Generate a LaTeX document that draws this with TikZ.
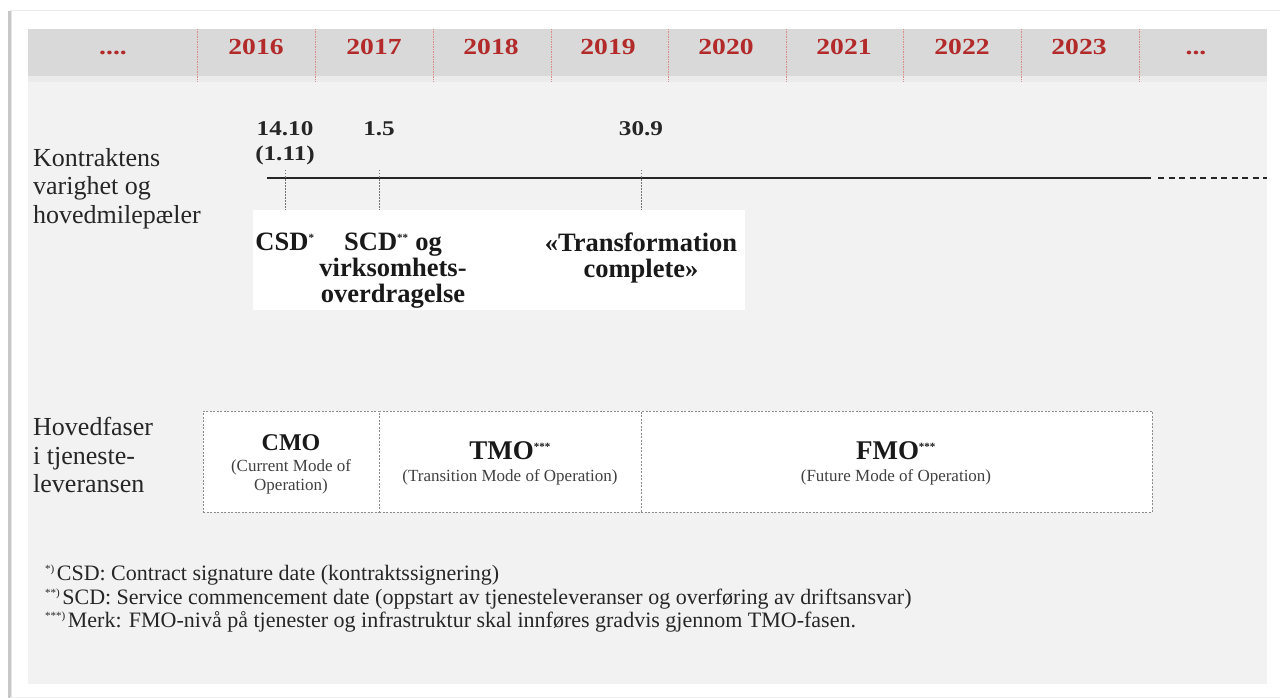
\documentclass[tikz,border=0pt]{standalone}
\usepackage{fontspec}
\setmainfont{Liberation Serif}
\newfontfamily\yearfont{Liberation Serif}[FakeStretch=1.2]
\usetikzlibrary{calc}
\definecolor{yearred}{HTML}{B22A2A}
\definecolor{sepred}{HTML}{D98A8A}
\definecolor{panelgray}{HTML}{F2F2F2}
\definecolor{headgray}{HTML}{D9D9D9}
\definecolor{headlight}{HTML}{EBEBEB}
\definecolor{boxedge}{HTML}{8C8C8C}
\tikzset{
  year/.style={font=\yearfont\bfseries\fontsize{23}{26}\selectfont, text=yearred, inner sep=0pt, anchor=base},
  rowlabel/.style={font=\fontsize{26}{28.5}\selectfont, align=left, anchor=north west, inner sep=0pt, text=black!85},
  datelabel/.style={font=\yearfont\bfseries\fontsize{21}{25}\selectfont, align=center, anchor=north, inner sep=0pt, text=black!85},
  milestone/.style={font=\bfseries\fontsize{26.5}{26}\selectfont, align=center, inner sep=0pt, text=black!90},
  phasebox/.style={draw=boxedge, fill=white, dash pattern=on 2pt off 1.5pt, line width=0.8pt, inner sep=0pt},
  phasename/.style={font=\bfseries\fontsize{24}{26}\selectfont, inner sep=0pt, text=black!90},
  phasebig/.style={font=\bfseries\fontsize{27}{28}\selectfont, inner sep=0pt, text=black!90},
  phasesub/.style={font=\fontsize{17}{19}\selectfont, align=center, inner sep=0pt, text=black!75},
  note/.style={font=\fontsize{22}{24}\selectfont, anchor=base west, inner sep=0pt, text=black!85},
  tick/.style={draw=black!55, dash pattern=on 1.5pt off 1.5pt, line width=0.8pt},
  yearsep/.style={draw=sepred, dash pattern=on 1.5pt off 1pt, line width=0.9pt}
}
\newcommand{\starmark}[1]{\textsuperscript{\fontsize{11}{11}\selectfont #1}}
\begin{document}
\begin{tikzpicture}[x=1pt,y=-1pt]
\useasboundingbox (0,0) rectangle (1280,698);
\fill[white] (0,0) rectangle (1280,698);
% card with its soft left shadow
\fill[black!22] (8,11) rectangle (11,698);
\fill[black!10] (11,11) rectangle (12,698);
\draw[black!8, line width=1pt] (10,10.5) -- (1280,10.5);
\draw[black!6, line width=1pt] (10,697) -- (1280,697);
% grey panel and header band
\fill[panelgray] (28,29) rectangle (1267,684);
\fill[headlight] (28,76) rectangle (1267,82);
\fill[headgray] (28,29) rectangle (1267,76);
% year separators
\foreach \sx in {197,315,433,551,668,786,903,1021,1139}
  \draw[yearsep] (\sx,29) -- (\sx,82);
% year labels
\node[year] (ypre) at (113,55) {....};
\node[year] (y2016) at (256,55) {2016};
\node[year] (y2017) at (374,55) {2017};
\node[year] (y2018) at (491,55) {2018};
\node[year] (y2019) at (608,55) {2019};
\node[year] (y2020) at (726,55) {2020};
\node[year] (y2021) at (844,55) {2021};
\node[year] (y2022) at (962,55) {2022};
\node[year] (y2023) at (1079,55) {2023};
\node[year] (ypost) at (1196,55) {...};
% row labels
\node[rowlabel] (lblcontract) at (33,148) {Kontraktens\\varighet og\\hovedmilepæler};
\node[rowlabel] (lblphase) at (33,417) {Hovedfaser\\i tjeneste-\\leveransen};
% contract timeline
\coordinate (tlstart) at (267,178);
\coordinate (tlsolid) at (1151,178);
\coordinate (tldash) at (1158,178);
\coordinate (tlend) at (1267,178);
\draw[black!85, line width=1.6pt] (tlstart) -- (tlsolid);
\draw[black!85, line width=1.6pt, dash pattern=on 6pt off 4.5pt] (tldash) -- (tlend);
% milestone dates
\node[datelabel] (dcsd) at (285,121) {14.10\\(1.11)};
\node[datelabel] (dscd) at (379,121) {1.5};
\node[datelabel] (dtc) at (641,121) {30.9};
% milestone text panel
\node[fill=white, inner sep=0pt, minimum width=492pt, minimum height=100pt, anchor=north west] (mpanel) at (253,210) {};
\draw[tick] (285,170) -- (285,210);
\draw[tick] (379,170) -- (379,210);
\draw[tick] (641,170) -- (641,210);
\node[milestone, anchor=north] (mcsd) at (285,233) {CSD\starmark{*}};
\node[milestone, anchor=north] (mscd) at (393,233) {SCD\starmark{**} og\\virksomhets-\\overdragelse};
\node[milestone, anchor=north] (mtc) at (641,233) {«Transformation\\complete»};
% service delivery phases
\node[phasebox, anchor=north west, minimum width=176pt, minimum height=101pt] (cmo) at (203,411) {};
\node[phasebox, anchor=north west, minimum width=262pt, minimum height=101pt] (tmo) at (379,411) {};
\node[phasebox, anchor=north west, minimum width=511pt, minimum height=101pt] (fmo) at (641,411) {};
\node[phasename] (cmoname) at (291,443) {CMO};
\node[phasesub] (cmosub) at (291,477) {(Current Mode of\\Operation)};
\node[phasebig] (tmoname) at (510,451) {TMO\starmark{***}};
\node[phasesub] (tmosub) at (510,477) {(Transition Mode of Operation)};
\node[phasebig] (fmoname) at (896,451) {FMO\starmark{***}};
\node[phasesub] (fmosub) at (896,477) {(Future Mode of Operation)};
% footnotes
\node[note] (n1) at (45,580) {\starmark{*)}\hspace{2pt}CSD: Contract signature date (kontraktssignering)};
\node[note] (n2) at (45,604) {\starmark{**)}\hspace{2pt}SCD: Service commencement date (oppstart av tjenesteleveranser og overføring av driftsansvar)};
\node[note] (n3) at (45,627) {\starmark{***)}\hspace{2pt}Merk: FMO-nivå på tjenester og infrastruktur skal innføres gradvis gjennom TMO-fasen.};
\end{tikzpicture}
\end{document}
